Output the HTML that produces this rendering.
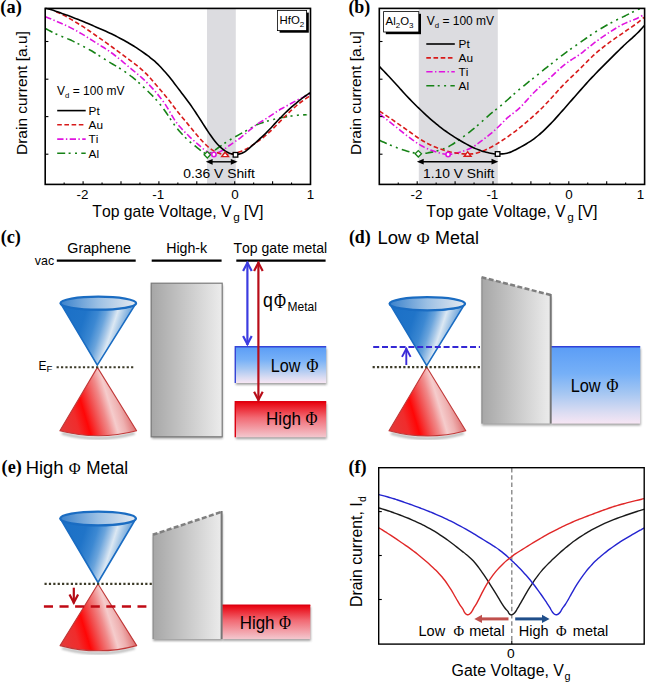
<!DOCTYPE html>
<html><head><meta charset="utf-8"><title>Figure</title>
<style>html,body{margin:0;padding:0;background:#fff;}svg{display:block;}text{font-kerning:none;}</style>
</head><body>
<svg width="647" height="685" viewBox="0 0 647 685">
<defs>
<linearGradient id="gk" x1="0" y1="0" x2="1" y2="0"><stop offset="0" stop-color="#a6a6a6"/><stop offset="1" stop-color="#ececec"/></linearGradient>
<linearGradient id="gblue" x1="0" y1="0" x2="0" y2="1"><stop offset="0" stop-color="#5b9df6"/><stop offset="0.35" stop-color="#76b0f7"/><stop offset="0.6" stop-color="#a4c6f2"/><stop offset="0.85" stop-color="#dadcf2"/><stop offset="1" stop-color="#f7e6f4"/></linearGradient>
<linearGradient id="gred" x1="0" y1="0" x2="0" y2="1"><stop offset="0" stop-color="#e8000c"/><stop offset="0.45" stop-color="#f26a74"/><stop offset="1" stop-color="#f3c8cf"/></linearGradient>
<linearGradient id="gconeb" x1="0" y1="0" x2="1" y2="0.27"><stop offset="0" stop-color="#1a6fc6"/><stop offset="0.35" stop-color="#2074c8"/><stop offset="0.5" stop-color="#3c88d2"/><stop offset="0.6" stop-color="#6aa4dc"/><stop offset="0.68" stop-color="#a8c8e8"/><stop offset="0.74" stop-color="#dce8f3"/><stop offset="0.82" stop-color="#a4c6e6"/><stop offset="0.93" stop-color="#5c9ad8"/></linearGradient>
<linearGradient id="gtopb" x1="0" y1="0" x2="1" y2="0"><stop offset="0" stop-color="#3b82cc"/><stop offset="0.5" stop-color="#9cc0e4"/><stop offset="1" stop-color="#e6eaf0"/></linearGradient>
<linearGradient id="gconer" x1="0" y1="1" x2="1" y2="0.73"><stop offset="0" stop-color="#e23c3c"/><stop offset="0.25" stop-color="#f02c2c"/><stop offset="0.38" stop-color="#ff0606"/><stop offset="0.5" stop-color="#f24a4a"/><stop offset="0.62" stop-color="#f08a8a"/><stop offset="0.72" stop-color="#f5cccc"/><stop offset="0.82" stop-color="#eeb0b0"/><stop offset="0.93" stop-color="#e07878"/></linearGradient>
<filter id="sh" x="-10%" y="-10%" width="130%" height="130%"><feGaussianBlur stdDeviation="1.2"/></filter>
</defs>
<rect width="647" height="685" fill="#fff"/>
<rect x="207.0" y="8.4" width="28.8" height="176" fill="#dcdce0"/>
<path d="M45.40,28.50 C45.90,28.77 47.40,29.57 48.40,30.10 C49.40,30.62 50.40,31.16 51.40,31.67 C52.40,32.19 53.40,32.70 54.40,33.20 C55.40,33.69 56.40,34.16 57.40,34.61 C58.40,35.07 59.40,35.49 60.40,35.90 C61.40,36.32 62.40,36.70 63.40,37.10 C64.40,37.49 65.40,37.87 66.40,38.28 C67.40,38.69 68.40,39.10 69.40,39.54 C70.40,39.97 71.40,40.43 72.40,40.90 C73.40,41.37 74.40,41.86 75.40,42.36 C76.40,42.86 77.40,43.37 78.40,43.88 C79.40,44.40 80.40,44.92 81.40,45.44 C82.40,45.97 83.40,46.49 84.40,47.03 C85.40,47.56 86.40,48.10 87.40,48.65 C88.40,49.20 89.40,49.75 90.40,50.32 C91.40,50.88 92.40,51.46 93.40,52.06 C94.40,52.65 95.40,53.26 96.40,53.89 C97.40,54.51 98.40,55.15 99.40,55.80 C100.40,56.44 101.40,57.10 102.40,57.75 C103.40,58.39 104.40,59.04 105.40,59.67 C106.40,60.30 107.40,60.92 108.40,61.53 C109.40,62.14 110.40,62.73 111.40,63.32 C112.40,63.92 113.40,64.50 114.40,65.10 C115.40,65.70 116.40,66.30 117.40,66.92 C118.40,67.53 119.40,68.16 120.40,68.80 C121.40,69.44 122.40,70.09 123.40,70.75 C124.40,71.41 125.40,72.08 126.40,72.78 C127.40,73.47 128.40,74.18 129.40,74.91 C130.40,75.65 131.40,76.41 132.40,77.21 C133.40,78.00 134.40,78.83 135.40,79.68 C136.40,80.53 137.40,81.42 138.40,82.33 C139.40,83.23 140.40,84.16 141.40,85.09 C142.40,86.02 143.40,86.97 144.40,87.93 C145.40,88.88 146.40,89.83 147.40,90.80 C148.40,91.77 149.40,92.74 150.40,93.73 C151.40,94.72 152.40,95.72 153.40,96.76 C154.40,97.80 155.40,98.86 156.40,99.97 C157.40,101.09 158.40,102.24 159.40,103.46 C160.40,104.68 161.40,105.95 162.40,107.28 C163.40,108.62 164.40,110.02 165.40,111.47 C166.40,112.92 167.40,114.46 168.40,115.98 C169.40,117.50 170.40,119.09 171.40,120.58 C172.40,122.07 173.40,123.54 174.40,124.91 C175.40,126.27 176.40,127.55 177.40,128.78 C178.40,130.01 179.40,131.16 180.40,132.28 C181.40,133.40 182.40,134.47 183.40,135.51 C184.40,136.55 185.40,137.55 186.40,138.52 C187.40,139.48 188.40,140.40 189.40,141.29 C190.40,142.18 191.40,143.02 192.40,143.84 C193.40,144.66 194.40,145.44 195.40,146.23 C196.40,147.02 197.40,147.79 198.40,148.57 C199.40,149.36 200.40,150.20 201.40,150.92 C202.40,151.64 203.40,152.44 204.40,152.92 C205.40,153.39 206.40,153.75 207.40,153.78 C208.40,153.80 209.40,153.50 210.40,153.09 C211.40,152.67 212.40,151.95 213.40,151.29 C214.40,150.62 215.40,149.84 216.40,149.10 C217.40,148.37 218.40,147.62 219.40,146.89 C220.40,146.16 221.40,145.44 222.40,144.75 C223.40,144.05 224.40,143.38 225.40,142.73 C226.40,142.08 227.40,141.46 228.40,140.85 C229.40,140.23 230.40,139.64 231.40,139.05 C232.40,138.46 233.40,137.87 234.40,137.30 C235.40,136.72 236.40,136.15 237.40,135.59 C238.40,135.02 239.40,134.47 240.40,133.92 C241.40,133.36 242.40,132.82 243.40,132.27 C244.40,131.72 245.40,131.18 246.40,130.62 C247.40,130.05 248.40,129.47 249.40,128.88 C250.40,128.29 251.40,127.66 252.40,127.08 C253.40,126.50 254.40,125.92 255.40,125.42 C256.40,124.92 257.40,124.48 258.40,124.07 C259.40,123.66 260.40,123.31 261.40,122.97 C262.40,122.62 263.40,122.31 264.40,122.00 C265.40,121.68 266.40,121.39 267.40,121.10 C268.40,120.81 269.40,120.53 270.40,120.26 C271.40,120.00 272.40,119.74 273.40,119.49 C274.40,119.24 275.40,119.00 276.40,118.77 C277.40,118.54 278.40,118.32 279.40,118.10 C280.40,117.89 281.40,117.68 282.40,117.49 C283.40,117.29 284.40,117.10 285.40,116.92 C286.40,116.74 287.40,116.58 288.40,116.42 C289.40,116.26 290.40,116.12 291.40,115.98 C292.40,115.85 293.40,115.72 294.40,115.61 C295.40,115.49 296.40,115.39 297.40,115.29 C298.40,115.20 299.40,115.12 300.40,115.06 C301.40,114.99 302.40,114.95 303.40,114.91 C304.40,114.87 305.85,114.83 306.40,114.82 C306.95,114.80 306.65,114.81 306.70,114.80" fill="none" stroke="#168216" stroke-width="1.60" stroke-dasharray="8 3.4 2 4.4 2 4.3" stroke-linejoin="round"/>
<path d="M45.40,16.70 C45.90,16.91 47.40,17.52 48.40,17.94 C49.40,18.35 50.40,18.76 51.40,19.18 C52.40,19.60 53.40,20.01 54.40,20.44 C55.40,20.86 56.40,21.28 57.40,21.71 C58.40,22.13 59.40,22.56 60.40,23.00 C61.40,23.43 62.40,23.86 63.40,24.31 C64.40,24.75 65.40,25.20 66.40,25.67 C67.40,26.13 68.40,26.61 69.40,27.10 C70.40,27.59 71.40,28.10 72.40,28.62 C73.40,29.14 74.40,29.67 75.40,30.22 C76.40,30.76 77.40,31.32 78.40,31.89 C79.40,32.46 80.40,33.03 81.40,33.63 C82.40,34.22 83.40,34.82 84.40,35.44 C85.40,36.05 86.40,36.68 87.40,37.31 C88.40,37.94 89.40,38.59 90.40,39.23 C91.40,39.87 92.40,40.51 93.40,41.15 C94.40,41.78 95.40,42.41 96.40,43.04 C97.40,43.67 98.40,44.29 99.40,44.91 C100.40,45.54 101.40,46.15 102.40,46.78 C103.40,47.41 104.40,48.04 105.40,48.69 C106.40,49.33 107.40,49.98 108.40,50.66 C109.40,51.34 110.40,52.03 111.40,52.76 C112.40,53.48 113.40,54.23 114.40,55.00 C115.40,55.77 116.40,56.56 117.40,57.36 C118.40,58.16 119.40,58.98 120.40,59.80 C121.40,60.62 122.40,61.46 123.40,62.29 C124.40,63.13 125.40,63.97 126.40,64.81 C127.40,65.64 128.40,66.48 129.40,67.31 C130.40,68.14 131.40,68.96 132.40,69.79 C133.40,70.62 134.40,71.45 135.40,72.29 C136.40,73.13 137.40,73.97 138.40,74.83 C139.40,75.69 140.40,76.55 141.40,77.45 C142.40,78.34 143.40,79.24 144.40,80.18 C145.40,81.12 146.40,82.08 147.40,83.08 C148.40,84.07 149.40,85.09 150.40,86.14 C151.40,87.19 152.40,88.26 153.40,89.37 C154.40,90.48 155.40,91.61 156.40,92.79 C157.40,93.97 158.40,95.17 159.40,96.43 C160.40,97.69 161.40,98.97 162.40,100.33 C163.40,101.70 164.40,103.10 165.40,104.62 C166.40,106.14 167.40,107.78 168.40,109.46 C169.40,111.13 170.40,112.98 171.40,114.67 C172.40,116.36 173.40,118.07 174.40,119.59 C175.40,121.11 176.40,122.48 177.40,123.77 C178.40,125.06 179.40,126.20 180.40,127.33 C181.40,128.47 182.40,129.52 183.40,130.57 C184.40,131.62 185.40,132.64 186.40,133.64 C187.40,134.64 188.40,135.61 189.40,136.56 C190.40,137.52 191.40,138.44 192.40,139.36 C193.40,140.27 194.40,141.15 195.40,142.04 C196.40,142.93 197.40,143.81 198.40,144.68 C199.40,145.56 200.40,146.45 201.40,147.30 C202.40,148.15 203.40,149.02 204.40,149.79 C205.40,150.55 206.40,151.29 207.40,151.88 C208.40,152.46 209.40,152.98 210.40,153.31 C211.40,153.63 212.40,153.82 213.40,153.82 C214.40,153.83 215.40,153.62 216.40,153.33 C217.40,153.04 218.40,152.56 219.40,152.06 C220.40,151.56 221.40,150.95 222.40,150.33 C223.40,149.71 224.40,149.03 225.40,148.34 C226.40,147.66 227.40,146.93 228.40,146.22 C229.40,145.51 230.40,144.79 231.40,144.09 C232.40,143.38 233.40,142.70 234.40,142.00 C235.40,141.31 236.40,140.63 237.40,139.92 C238.40,139.22 239.40,138.51 240.40,137.77 C241.40,137.03 242.40,136.26 243.40,135.47 C244.40,134.67 245.40,133.84 246.40,133.00 C247.40,132.15 248.40,131.27 249.40,130.41 C250.40,129.56 251.40,128.68 252.40,127.85 C253.40,127.03 254.40,126.23 255.40,125.48 C256.40,124.74 257.40,124.05 258.40,123.39 C259.40,122.73 260.40,122.14 261.40,121.53 C262.40,120.93 263.40,120.36 264.40,119.75 C265.40,119.14 266.40,118.52 267.40,117.88 C268.40,117.23 269.40,116.55 270.40,115.87 C271.40,115.19 272.40,114.48 273.40,113.80 C274.40,113.12 275.40,112.44 276.40,111.80 C277.40,111.15 278.40,110.53 279.40,109.94 C280.40,109.34 281.40,108.78 282.40,108.21 C283.40,107.65 284.40,107.11 285.40,106.56 C286.40,106.02 287.40,105.47 288.40,104.92 C289.40,104.37 290.40,103.82 291.40,103.27 C292.40,102.72 293.40,102.16 294.40,101.62 C295.40,101.08 296.40,100.54 297.40,100.03 C298.40,99.51 299.40,99.01 300.40,98.53 C301.40,98.04 302.40,97.58 303.40,97.12 C304.40,96.67 305.40,96.23 306.40,95.81 C307.40,95.39 308.80,94.86 309.40,94.60 C310.00,94.33 309.90,94.29 310.00,94.22" fill="none" stroke="#e014e0" stroke-width="1.60" stroke-dasharray="6.3 2.4 1.4 2.4" stroke-linejoin="round"/>
<path d="M56.10,11.81 C56.60,12.01 58.10,12.61 59.10,13.03 C60.10,13.46 61.10,13.89 62.10,14.37 C63.10,14.85 64.10,15.36 65.10,15.90 C66.10,16.44 67.10,17.04 68.10,17.62 C69.10,18.21 70.10,18.81 71.10,19.40 C72.10,20.00 73.10,20.58 74.10,21.18 C75.10,21.77 76.10,22.36 77.10,22.96 C78.10,23.56 79.10,24.17 80.10,24.79 C81.10,25.41 82.10,26.05 83.10,26.70 C84.10,27.36 85.10,28.03 86.10,28.71 C87.10,29.39 88.10,30.08 89.10,30.78 C90.10,31.47 91.10,32.18 92.10,32.88 C93.10,33.58 94.10,34.29 95.10,34.99 C96.10,35.69 97.10,36.39 98.10,37.09 C99.10,37.79 100.10,38.50 101.10,39.20 C102.10,39.90 103.10,40.61 104.10,41.32 C105.10,42.02 106.10,42.73 107.10,43.44 C108.10,44.16 109.10,44.87 110.10,45.59 C111.10,46.31 112.10,47.03 113.10,47.76 C114.10,48.49 115.10,49.22 116.10,49.96 C117.10,50.69 118.10,51.43 119.10,52.17 C120.10,52.90 121.10,53.64 122.10,54.38 C123.10,55.12 124.10,55.86 125.10,56.60 C126.10,57.34 127.10,58.07 128.10,58.82 C129.10,59.56 130.10,60.29 131.10,61.04 C132.10,61.79 133.10,62.54 134.10,63.30 C135.10,64.07 136.10,64.85 137.10,65.66 C138.10,66.46 139.10,67.28 140.10,68.13 C141.10,68.98 142.10,69.85 143.10,70.77 C144.10,71.69 145.10,72.65 146.10,73.66 C147.10,74.66 148.10,75.72 149.10,76.81 C150.10,77.90 151.10,79.04 152.10,80.18 C153.10,81.32 154.10,82.49 155.10,83.66 C156.10,84.82 157.10,85.99 158.10,87.16 C159.10,88.33 160.10,89.50 161.10,90.68 C162.10,91.86 163.10,93.03 164.10,94.23 C165.10,95.42 166.10,96.62 167.10,97.86 C168.10,99.10 169.10,100.37 170.10,101.68 C171.10,102.99 172.10,104.36 173.10,105.69 C174.10,107.03 175.10,108.40 176.10,109.70 C177.10,111.00 178.10,112.26 179.10,113.51 C180.10,114.75 181.10,115.95 182.10,117.16 C183.10,118.37 184.10,119.56 185.10,120.76 C186.10,121.96 187.10,123.17 188.10,124.38 C189.10,125.60 190.10,126.83 191.10,128.05 C192.10,129.27 193.10,130.50 194.10,131.71 C195.10,132.92 196.10,134.13 197.10,135.30 C198.10,136.47 199.10,137.63 200.10,138.74 C201.10,139.86 202.10,140.94 203.10,141.98 C204.10,143.02 205.10,144.04 206.10,144.98 C207.10,145.92 208.10,146.83 209.10,147.64 C210.10,148.46 211.10,149.20 212.10,149.86 C213.10,150.51 214.10,151.08 215.10,151.58 C216.10,152.09 217.10,152.52 218.10,152.91 C219.10,153.29 220.10,153.62 221.10,153.88 C222.10,154.14 223.10,154.33 224.10,154.44 C225.10,154.55 226.10,154.58 227.10,154.54 C228.10,154.51 229.10,154.38 230.10,154.23 C231.10,154.08 232.10,153.87 233.10,153.65 C234.10,153.44 235.10,153.19 236.10,152.92 C237.10,152.65 238.10,152.37 239.10,152.04 C240.10,151.70 241.10,151.35 242.10,150.94 C243.10,150.53 244.10,150.08 245.10,149.58 C246.10,149.08 247.10,148.52 248.10,147.94 C249.10,147.36 250.10,146.72 251.10,146.07 C252.10,145.43 253.10,144.74 254.10,144.06 C255.10,143.37 256.10,142.67 257.10,141.96 C258.10,141.25 259.10,140.53 260.10,139.79 C261.10,139.05 262.10,138.30 263.10,137.52 C264.10,136.73 265.10,135.93 266.10,135.09 C267.10,134.24 268.10,133.35 269.10,132.43 C270.10,131.50 271.10,130.52 272.10,129.53 C273.10,128.54 274.10,127.50 275.10,126.48 C276.10,125.46 277.10,124.43 278.10,123.40 C279.10,122.38 280.10,121.36 281.10,120.34 C282.10,119.32 283.10,118.30 284.10,117.30 C285.10,116.29 286.10,115.30 287.10,114.32 C288.10,113.34 289.10,112.38 290.10,111.43 C291.10,110.49 292.10,109.56 293.10,108.65 C294.10,107.74 295.10,106.85 296.10,106.00 C297.10,105.14 298.10,104.31 299.10,103.52 C300.10,102.73 301.10,101.97 302.10,101.24 C303.10,100.51 304.10,99.81 305.10,99.12 C306.10,98.44 307.28,97.66 308.10,97.11 C308.92,96.56 309.68,96.03 310.00,95.81" fill="none" stroke="#d81a1a" stroke-width="1.60" stroke-dasharray="4.6 2.6" stroke-linejoin="round"/>
<path d="M45.40,8.40 C45.90,8.48 47.40,8.66 48.40,8.87 C49.40,9.09 50.40,9.38 51.40,9.69 C52.40,10.00 53.40,10.36 54.40,10.71 C55.40,11.06 56.40,11.43 57.40,11.79 C58.40,12.15 59.40,12.50 60.40,12.86 C61.40,13.21 62.40,13.57 63.40,13.92 C64.40,14.28 65.40,14.64 66.40,15.00 C67.40,15.37 68.40,15.73 69.40,16.11 C70.40,16.48 71.40,16.86 72.40,17.25 C73.40,17.63 74.40,18.02 75.40,18.41 C76.40,18.81 77.40,19.21 78.40,19.61 C79.40,20.01 80.40,20.42 81.40,20.82 C82.40,21.23 83.40,21.64 84.40,22.06 C85.40,22.48 86.40,22.89 87.40,23.32 C88.40,23.74 89.40,24.16 90.40,24.59 C91.40,25.01 92.40,25.44 93.40,25.87 C94.40,26.30 95.40,26.73 96.40,27.16 C97.40,27.59 98.40,28.02 99.40,28.45 C100.40,28.88 101.40,29.31 102.40,29.75 C103.40,30.18 104.40,30.62 105.40,31.07 C106.40,31.51 107.40,31.96 108.40,32.42 C109.40,32.88 110.40,33.35 111.40,33.84 C112.40,34.32 113.40,34.82 114.40,35.33 C115.40,35.83 116.40,36.35 117.40,36.88 C118.40,37.40 119.40,37.93 120.40,38.46 C121.40,38.99 122.40,39.53 123.40,40.07 C124.40,40.62 125.40,41.17 126.40,41.74 C127.40,42.30 128.40,42.88 129.40,43.47 C130.40,44.06 131.40,44.66 132.40,45.27 C133.40,45.88 134.40,46.51 135.40,47.14 C136.40,47.78 137.40,48.44 138.40,49.10 C139.40,49.77 140.40,50.45 141.40,51.14 C142.40,51.84 143.40,52.55 144.40,53.27 C145.40,54.00 146.40,54.73 147.40,55.48 C148.40,56.24 149.40,57.00 150.40,57.79 C151.40,58.58 152.40,59.38 153.40,60.23 C154.40,61.08 155.40,61.96 156.40,62.89 C157.40,63.81 158.40,64.79 159.40,65.80 C160.40,66.80 161.40,67.85 162.40,68.94 C163.40,70.02 164.40,71.13 165.40,72.28 C166.40,73.43 167.40,74.62 168.40,75.84 C169.40,77.05 170.40,78.31 171.40,79.57 C172.40,80.84 173.40,82.14 174.40,83.44 C175.40,84.74 176.40,86.06 177.40,87.38 C178.40,88.69 179.40,90.02 180.40,91.34 C181.40,92.66 182.40,93.97 183.40,95.30 C184.40,96.62 185.40,97.93 186.40,99.27 C187.40,100.61 188.40,101.96 189.40,103.34 C190.40,104.73 191.40,106.14 192.40,107.59 C193.40,109.04 194.40,110.53 195.40,112.04 C196.40,113.54 197.40,115.08 198.40,116.62 C199.40,118.16 200.40,119.72 201.40,121.28 C202.40,122.84 203.40,124.41 204.40,125.96 C205.40,127.51 206.40,129.07 207.40,130.58 C208.40,132.09 209.40,133.59 210.40,135.02 C211.40,136.45 212.40,137.85 213.40,139.16 C214.40,140.47 215.40,141.73 216.40,142.90 C217.40,144.07 218.40,145.17 219.40,146.17 C220.40,147.16 221.40,148.08 222.40,148.89 C223.40,149.71 224.40,150.43 225.40,151.06 C226.40,151.69 227.40,152.23 228.40,152.70 C229.40,153.16 230.40,153.55 231.40,153.84 C232.40,154.12 233.40,154.33 234.40,154.42 C235.40,154.52 236.40,154.51 237.40,154.40 C238.40,154.30 239.40,154.11 240.40,153.80 C241.40,153.48 242.40,153.07 243.40,152.53 C244.40,151.99 245.40,151.29 246.40,150.55 C247.40,149.81 248.40,148.95 249.40,148.10 C250.40,147.25 251.40,146.35 252.40,145.46 C253.40,144.57 254.40,143.67 255.40,142.78 C256.40,141.89 257.40,141.00 258.40,140.10 C259.40,139.21 260.40,138.32 261.40,137.41 C262.40,136.50 263.40,135.58 264.40,134.62 C265.40,133.66 266.40,132.68 267.40,131.66 C268.40,130.63 269.40,129.56 270.40,128.49 C271.40,127.42 272.40,126.30 273.40,125.21 C274.40,124.12 275.40,123.02 276.40,121.94 C277.40,120.87 278.40,119.81 279.40,118.77 C280.40,117.72 281.40,116.70 282.40,115.69 C283.40,114.69 284.40,113.69 285.40,112.73 C286.40,111.76 287.40,110.81 288.40,109.88 C289.40,108.96 290.40,108.06 291.40,107.17 C292.40,106.29 293.40,105.43 294.40,104.59 C295.40,103.75 296.40,102.92 297.40,102.11 C298.40,101.30 299.40,100.51 300.40,99.74 C301.40,98.96 302.40,98.20 303.40,97.46 C304.40,96.71 305.40,95.98 306.40,95.28 C307.40,94.58 308.80,93.71 309.40,93.27 C310.00,92.82 309.90,92.74 310.00,92.64" fill="none" stroke="#000" stroke-width="1.60" stroke-linejoin="round"/>
<line x1="64.15" y1="184.40" x2="64.15" y2="182.60" stroke="#000" stroke-width="1.1"/><line x1="83.10" y1="184.40" x2="83.10" y2="181.20" stroke="#000" stroke-width="1.1"/><line x1="102.05" y1="184.40" x2="102.05" y2="182.60" stroke="#000" stroke-width="1.1"/><line x1="121.00" y1="184.40" x2="121.00" y2="181.20" stroke="#000" stroke-width="1.1"/><line x1="139.95" y1="184.40" x2="139.95" y2="182.60" stroke="#000" stroke-width="1.1"/><line x1="158.90" y1="184.40" x2="158.90" y2="181.20" stroke="#000" stroke-width="1.1"/><line x1="177.85" y1="184.40" x2="177.85" y2="182.60" stroke="#000" stroke-width="1.1"/><line x1="196.80" y1="184.40" x2="196.80" y2="181.20" stroke="#000" stroke-width="1.1"/><line x1="215.75" y1="184.40" x2="215.75" y2="182.60" stroke="#000" stroke-width="1.1"/><line x1="234.70" y1="184.40" x2="234.70" y2="181.20" stroke="#000" stroke-width="1.1"/><line x1="253.65" y1="184.40" x2="253.65" y2="182.60" stroke="#000" stroke-width="1.1"/><line x1="272.60" y1="184.40" x2="272.60" y2="181.20" stroke="#000" stroke-width="1.1"/><line x1="291.55" y1="184.40" x2="291.55" y2="182.60" stroke="#000" stroke-width="1.1"/><line x1="45.20" y1="41.50" x2="48.40" y2="41.50" stroke="#000" stroke-width="1.1"/><line x1="45.20" y1="79.20" x2="48.40" y2="79.20" stroke="#000" stroke-width="1.1"/><line x1="45.20" y1="116.60" x2="48.40" y2="116.60" stroke="#000" stroke-width="1.1"/><line x1="45.20" y1="154.20" x2="48.40" y2="154.20" stroke="#000" stroke-width="1.1"/><rect x="45.20" y="8.40" width="265.30" height="176.00" fill="none" stroke="#000" stroke-width="1.6"/><text x="76.50" y="198.80" font-size="13.40" font-family='"Liberation Sans", sans-serif' textLength="11.91" lengthAdjust="spacingAndGlyphs">-2</text><text x="152.30" y="198.80" font-size="13.40" font-family='"Liberation Sans", sans-serif' textLength="11.91" lengthAdjust="spacingAndGlyphs">-1</text><text x="231.17" y="198.80" font-size="13.40" font-family='"Liberation Sans", sans-serif' textLength="7.45" lengthAdjust="spacingAndGlyphs">0</text><text x="306.79" y="198.80" font-size="13.40" font-family='"Liberation Sans", sans-serif' textLength="7.45" lengthAdjust="spacingAndGlyphs">1</text>
<path d="M207.3,151.6 L210.5,154.8 L207.3,158.0 L204.1,154.8 Z" fill="#fff" stroke="#168216" stroke-width="1.3"/>
<circle cx="213.9" cy="154.5" r="2.2" fill="#fff" stroke="#e014e0" stroke-width="1.6"/>
<path d="M225.1,152.2 L228.5,156.6 L221.7,156.6 Z" fill="#fff" stroke="#d81a1a" stroke-width="1.4" stroke-linejoin="miter"/>
<rect x="233.2" y="152.5" width="4.6" height="4.6" fill="#fff" stroke="#000" stroke-width="1.3"/>
<line x1="211.6" y1="161.8" x2="231.8" y2="161.8" stroke="#000" stroke-width="1.4"/><path d="M205.8,161.8 L212.6,158.9 L212.6,164.7 Z" fill="#000"/><path d="M237.6,161.8 L230.8,158.9 L230.8,164.7 Z" fill="#000"/>
<text x="183.26" y="177.80" font-size="13.60" font-family='"Liberation Sans", sans-serif' textLength="71.64" lengthAdjust="spacingAndGlyphs">0.36 V Shift</text>
<rect x="279.6" y="12.6" width="29.2" height="20.1" fill="#000"/>
<rect x="277.4" y="10.5" width="29.2" height="20.1" fill="#fff" stroke="#000" stroke-width="0.8"/>
<text x="279.6" y="24.4" font-size="11.4" font-family='"Liberation Sans", sans-serif'>HfO<tspan font-size="8" dy="2.5">2</tspan></text>
<text x="57" y="94.8" font-size="12" font-family='"Liberation Sans", sans-serif'>V<tspan font-size="7.8" dy="3">d</tspan><tspan dy="-3"> = 100 mV</tspan></text>
<line x1="57.2" y1="110.6" x2="85.7" y2="110.6" stroke="#000" stroke-width="1.60"/><text x="88.6" y="114.9" font-size="11.8" font-family='"Liberation Sans", sans-serif'>Pt</text><line x1="57.2" y1="124.8" x2="85.7" y2="124.8" stroke="#d81a1a" stroke-width="1.60" stroke-dasharray="4.6 2.6"/><text x="88.6" y="129.2" font-size="11.8" font-family='"Liberation Sans", sans-serif'>Au</text><line x1="57.2" y1="139.1" x2="85.7" y2="139.1" stroke="#e014e0" stroke-width="1.60" stroke-dasharray="6.3 2.4 1.4 2.4"/><text x="88.6" y="143.4" font-size="11.8" font-family='"Liberation Sans", sans-serif'>Ti</text><line x1="57.2" y1="153.3" x2="85.7" y2="153.3" stroke="#168216" stroke-width="1.60" stroke-dasharray="8 3.4 2 4.4 2 4.3"/><text x="88.6" y="157.7" font-size="11.8" font-family='"Liberation Sans", sans-serif'>Al</text>
<text x="92.35" y="216.60" font-size="16.60" font-family='"Liberation Sans", sans-serif' textLength="139.22" lengthAdjust="spacingAndGlyphs">Top gate Voltage, V</text>
<text x="233.3" y="220.6" font-size="11.8" font-family='"Liberation Sans", sans-serif'>g</text>
<text x="243.74" y="216.60" font-size="16.60" font-family='"Liberation Sans", sans-serif' textLength="19.81" lengthAdjust="spacingAndGlyphs">[V]</text>
<g transform="translate(27.30,0) rotate(-90)"><text x="-154.97" y="0.00" font-size="15.20" font-family='"Liberation Sans", sans-serif' textLength="123.77" lengthAdjust="spacingAndGlyphs">Drain current [a.u]</text></g>
<text x="0.39" y="12.80" font-size="17.80" font-family='"Liberation Serif", serif' font-weight="bold" textLength="21.41" lengthAdjust="spacingAndGlyphs">(a)</text>
<rect x="418.8" y="8.4" width="79.0" height="176" fill="#dcdce0"/>
<path d="M379.50,140.30 C380.00,140.53 381.50,141.22 382.50,141.67 C383.50,142.12 384.50,142.58 385.50,143.03 C386.50,143.47 387.50,143.92 388.50,144.35 C389.50,144.78 390.50,145.20 391.50,145.61 C392.50,146.02 393.50,146.42 394.50,146.80 C395.50,147.19 396.50,147.56 397.50,147.93 C398.50,148.30 399.50,148.65 400.50,149.00 C401.50,149.35 402.50,149.68 403.50,150.01 C404.50,150.33 405.50,150.65 406.50,150.95 C407.50,151.25 408.50,151.55 409.50,151.82 C410.50,152.09 411.50,152.35 412.50,152.57 C413.50,152.79 414.50,152.99 415.50,153.14 C416.50,153.29 417.50,153.40 418.50,153.46 C419.50,153.53 420.50,153.54 421.50,153.52 C422.50,153.49 423.50,153.41 424.50,153.31 C425.50,153.21 426.50,153.07 427.50,152.92 C428.50,152.77 429.50,152.59 430.50,152.40 C431.50,152.21 432.50,152.01 433.50,151.79 C434.50,151.57 435.50,151.35 436.50,151.10 C437.50,150.85 438.50,150.60 439.50,150.32 C440.50,150.03 441.50,149.73 442.50,149.38 C443.50,149.03 444.50,148.65 445.50,148.21 C446.50,147.76 447.50,147.26 448.50,146.71 C449.50,146.16 450.50,145.55 451.50,144.93 C452.50,144.31 453.50,143.65 454.50,142.99 C455.50,142.33 456.50,141.65 457.50,140.95 C458.50,140.26 459.50,139.56 460.50,138.84 C461.50,138.13 462.50,137.40 463.50,136.66 C464.50,135.92 465.50,135.17 466.50,134.40 C467.50,133.64 468.50,132.86 469.50,132.08 C470.50,131.29 471.50,130.49 472.50,129.68 C473.50,128.87 474.50,128.04 475.50,127.20 C476.50,126.36 477.50,125.50 478.50,124.62 C479.50,123.74 480.50,122.84 481.50,121.94 C482.50,121.04 483.50,120.12 484.50,119.21 C485.50,118.31 486.50,117.41 487.50,116.53 C488.50,115.66 489.50,114.80 490.50,113.97 C491.50,113.13 492.50,112.33 493.50,111.53 C494.50,110.73 495.50,109.95 496.50,109.15 C497.50,108.36 498.50,107.56 499.50,106.74 C500.50,105.93 501.50,105.09 502.50,104.25 C503.50,103.40 504.50,102.53 505.50,101.65 C506.50,100.78 507.50,99.89 508.50,99.00 C509.50,98.11 510.50,97.22 511.50,96.33 C512.50,95.44 513.50,94.55 514.50,93.67 C515.50,92.78 516.50,91.91 517.50,91.04 C518.50,90.18 519.50,89.33 520.50,88.49 C521.50,87.65 522.50,86.83 523.50,86.01 C524.50,85.19 525.50,84.39 526.50,83.59 C527.50,82.79 528.50,82.01 529.50,81.21 C530.50,80.42 531.50,79.63 532.50,78.84 C533.50,78.04 534.50,77.25 535.50,76.45 C536.50,75.65 537.50,74.85 538.50,74.04 C539.50,73.24 540.50,72.44 541.50,71.64 C542.50,70.83 543.50,70.03 544.50,69.23 C545.50,68.43 546.50,67.63 547.50,66.84 C548.50,66.04 549.50,65.24 550.50,64.45 C551.50,63.65 552.50,62.86 553.50,62.06 C554.50,61.27 555.50,60.47 556.50,59.69 C557.50,58.90 558.50,58.11 559.50,57.33 C560.50,56.55 561.50,55.78 562.50,55.02 C563.50,54.26 564.50,53.51 565.50,52.77 C566.50,52.04 567.50,51.31 568.50,50.60 C569.50,49.88 570.50,49.18 571.50,48.48 C572.50,47.79 573.50,47.10 574.50,46.41 C575.50,45.72 576.50,45.03 577.50,44.34 C578.50,43.65 579.50,42.95 580.50,42.25 C581.50,41.55 582.50,40.84 583.50,40.13 C584.50,39.42 585.50,38.71 586.50,38.01 C587.50,37.30 588.50,36.60 589.50,35.91 C590.50,35.22 591.50,34.53 592.50,33.87 C593.50,33.20 594.50,32.55 595.50,31.91 C596.50,31.26 597.50,30.64 598.50,30.02 C599.50,29.40 600.50,28.80 601.50,28.20 C602.50,27.61 603.50,27.02 604.50,26.45 C605.50,25.87 606.50,25.31 607.50,24.75 C608.50,24.20 609.50,23.66 610.50,23.13 C611.50,22.60 612.50,22.09 613.50,21.58 C614.50,21.07 615.50,20.58 616.50,20.08 C617.50,19.59 618.50,19.10 619.50,18.61 C620.50,18.12 621.50,17.63 622.50,17.13 C623.50,16.64 624.50,16.14 625.50,15.64 C626.50,15.14 627.50,14.64 628.50,14.14 C629.50,13.64 630.50,13.13 631.50,12.64 C632.50,12.14 633.50,11.63 634.50,11.15 C635.50,10.66 636.50,10.17 637.50,9.72 C638.50,9.27 639.92,8.69 640.50,8.44 C641.08,8.19 640.92,8.28 641.00,8.24" fill="none" stroke="#168216" stroke-width="1.60" stroke-dasharray="8 3.4 2 4.4 2 4.3" stroke-linejoin="round"/>
<path d="M379.50,114.00 C380.00,114.39 381.50,115.55 382.50,116.33 C383.50,117.10 384.50,117.88 385.50,118.65 C386.50,119.43 387.50,120.21 388.50,120.99 C389.50,121.78 390.50,122.56 391.50,123.35 C392.50,124.14 393.50,124.94 394.50,125.74 C395.50,126.55 396.50,127.36 397.50,128.17 C398.50,128.98 399.50,129.79 400.50,130.60 C401.50,131.40 402.50,132.21 403.50,133.00 C404.50,133.79 405.50,134.57 406.50,135.34 C407.50,136.11 408.50,136.87 409.50,137.62 C410.50,138.37 411.50,139.12 412.50,139.85 C413.50,140.58 414.50,141.31 415.50,142.00 C416.50,142.69 417.50,143.37 418.50,144.00 C419.50,144.63 420.50,145.24 421.50,145.80 C422.50,146.36 423.50,146.88 424.50,147.37 C425.50,147.86 426.50,148.30 427.50,148.73 C428.50,149.15 429.50,149.54 430.50,149.92 C431.50,150.30 432.50,150.66 433.50,151.00 C434.50,151.35 435.50,151.68 436.50,152.00 C437.50,152.32 438.50,152.63 439.50,152.91 C440.50,153.19 441.50,153.46 442.50,153.67 C443.50,153.89 444.50,154.08 445.50,154.20 C446.50,154.31 447.50,154.38 448.50,154.37 C449.50,154.36 450.50,154.27 451.50,154.14 C452.50,154.01 453.50,153.79 454.50,153.56 C455.50,153.33 456.50,153.05 457.50,152.78 C458.50,152.51 459.50,152.23 460.50,151.93 C461.50,151.64 462.50,151.35 463.50,151.03 C464.50,150.70 465.50,150.37 466.50,149.99 C467.50,149.60 468.50,149.19 469.50,148.71 C470.50,148.23 471.50,147.70 472.50,147.12 C473.50,146.54 474.50,145.90 475.50,145.23 C476.50,144.56 477.50,143.83 478.50,143.11 C479.50,142.38 480.50,141.62 481.50,140.87 C482.50,140.11 483.50,139.35 484.50,138.58 C485.50,137.82 486.50,137.05 487.50,136.27 C488.50,135.48 489.50,134.69 490.50,133.87 C491.50,133.05 492.50,132.22 493.50,131.35 C494.50,130.47 495.50,129.57 496.50,128.63 C497.50,127.69 498.50,126.71 499.50,125.71 C500.50,124.72 501.50,123.68 502.50,122.68 C503.50,121.68 504.50,120.66 505.50,119.71 C506.50,118.76 507.50,117.84 508.50,116.98 C509.50,116.11 510.50,115.33 511.50,114.54 C512.50,113.76 513.50,113.04 514.50,112.26 C515.50,111.48 516.50,110.71 517.50,109.85 C518.50,108.99 519.50,108.07 520.50,107.09 C521.50,106.11 522.50,105.05 523.50,103.97 C524.50,102.90 525.50,101.76 526.50,100.64 C527.50,99.52 528.50,98.37 529.50,97.26 C530.50,96.15 531.50,95.05 532.50,94.00 C533.50,92.95 534.50,91.93 535.50,90.95 C536.50,89.97 537.50,89.03 538.50,88.11 C539.50,87.19 540.50,86.31 541.50,85.42 C542.50,84.53 543.50,83.66 544.50,82.78 C545.50,81.90 546.50,81.02 547.50,80.12 C548.50,79.22 549.50,78.30 550.50,77.38 C551.50,76.45 552.50,75.51 553.50,74.57 C554.50,73.63 555.50,72.67 556.50,71.73 C557.50,70.80 558.50,69.86 559.50,68.95 C560.50,68.05 561.50,67.15 562.50,66.30 C563.50,65.46 564.50,64.64 565.50,63.87 C566.50,63.10 567.50,62.39 568.50,61.70 C569.50,61.01 570.50,60.38 571.50,59.74 C572.50,59.10 573.50,58.50 574.50,57.87 C575.50,57.23 576.50,56.60 577.50,55.93 C578.50,55.25 579.50,54.55 580.50,53.82 C581.50,53.09 582.50,52.31 583.50,51.53 C584.50,50.74 585.50,49.92 586.50,49.11 C587.50,48.30 588.50,47.47 589.50,46.67 C590.50,45.86 591.50,45.06 592.50,44.27 C593.50,43.49 594.50,42.73 595.50,41.98 C596.50,41.23 597.50,40.50 598.50,39.78 C599.50,39.05 600.50,38.35 601.50,37.65 C602.50,36.95 603.50,36.26 604.50,35.58 C605.50,34.90 606.50,34.24 607.50,33.58 C608.50,32.92 609.50,32.27 610.50,31.62 C611.50,30.98 612.50,30.35 613.50,29.72 C614.50,29.10 615.50,28.48 616.50,27.89 C617.50,27.30 618.50,26.71 619.50,26.15 C620.50,25.60 621.50,25.06 622.50,24.55 C623.50,24.04 624.50,23.57 625.50,23.11 C626.50,22.66 627.50,22.24 628.50,21.83 C629.50,21.42 630.50,21.04 631.50,20.64 C632.50,20.25 633.50,19.88 634.50,19.47 C635.50,19.05 636.50,18.64 637.50,18.17 C638.50,17.69 639.50,17.18 640.50,16.61 C641.50,16.05 642.92,15.14 643.50,14.78 C644.08,14.42 643.92,14.51 644.00,14.45" fill="none" stroke="#e014e0" stroke-width="1.60" stroke-dasharray="6.3 2.4 1.4 2.4" stroke-linejoin="round"/>
<path d="M379.50,111.10 C380.00,111.43 381.50,112.44 382.50,113.10 C383.50,113.77 384.50,114.44 385.50,115.11 C386.50,115.78 387.50,116.45 388.50,117.13 C389.50,117.80 390.50,118.48 391.50,119.16 C392.50,119.85 393.50,120.53 394.50,121.22 C395.50,121.91 396.50,122.61 397.50,123.31 C398.50,124.00 399.50,124.70 400.50,125.40 C401.50,126.10 402.50,126.80 403.50,127.51 C404.50,128.21 405.50,128.91 406.50,129.62 C407.50,130.33 408.50,131.04 409.50,131.76 C410.50,132.48 411.50,133.20 412.50,133.92 C413.50,134.63 414.50,135.36 415.50,136.06 C416.50,136.75 417.50,137.45 418.50,138.11 C419.50,138.77 420.50,139.42 421.50,140.03 C422.50,140.65 423.50,141.24 424.50,141.80 C425.50,142.37 426.50,142.92 427.50,143.44 C428.50,143.96 429.50,144.46 430.50,144.94 C431.50,145.42 432.50,145.88 433.50,146.32 C434.50,146.76 435.50,147.18 436.50,147.58 C437.50,147.98 438.50,148.36 439.50,148.72 C440.50,149.09 441.50,149.43 442.50,149.76 C443.50,150.09 444.50,150.40 445.50,150.70 C446.50,150.99 447.50,151.27 448.50,151.53 C449.50,151.78 450.50,152.02 451.50,152.24 C452.50,152.45 453.50,152.65 454.50,152.82 C455.50,152.99 456.50,153.14 457.50,153.28 C458.50,153.41 459.50,153.52 460.50,153.62 C461.50,153.71 462.50,153.79 463.50,153.86 C464.50,153.92 465.50,153.98 466.50,154.01 C467.50,154.04 468.50,154.06 469.50,154.03 C470.50,154.00 471.50,153.95 472.50,153.84 C473.50,153.73 474.50,153.56 475.50,153.35 C476.50,153.14 477.50,152.87 478.50,152.58 C479.50,152.28 480.50,151.94 481.50,151.57 C482.50,151.20 483.50,150.81 484.50,150.38 C485.50,149.96 486.50,149.52 487.50,149.04 C488.50,148.57 489.50,148.07 490.50,147.54 C491.50,147.01 492.50,146.45 493.50,145.87 C494.50,145.29 495.50,144.69 496.50,144.07 C497.50,143.45 498.50,142.82 499.50,142.18 C500.50,141.54 501.50,140.89 502.50,140.24 C503.50,139.59 504.50,138.94 505.50,138.27 C506.50,137.61 507.50,136.93 508.50,136.23 C509.50,135.54 510.50,134.82 511.50,134.09 C512.50,133.35 513.50,132.59 514.50,131.82 C515.50,131.05 516.50,130.26 517.50,129.47 C518.50,128.68 519.50,127.88 520.50,127.07 C521.50,126.26 522.50,125.44 523.50,124.62 C524.50,123.79 525.50,122.96 526.50,122.12 C527.50,121.28 528.50,120.44 529.50,119.58 C530.50,118.72 531.50,117.85 532.50,116.96 C533.50,116.07 534.50,115.17 535.50,114.25 C536.50,113.32 537.50,112.38 538.50,111.41 C539.50,110.45 540.50,109.46 541.50,108.45 C542.50,107.45 543.50,106.42 544.50,105.39 C545.50,104.35 546.50,103.30 547.50,102.24 C548.50,101.18 549.50,100.11 550.50,99.02 C551.50,97.93 552.50,96.82 553.50,95.71 C554.50,94.60 555.50,93.47 556.50,92.36 C557.50,91.25 558.50,90.13 559.50,89.04 C560.50,87.95 561.50,86.87 562.50,85.83 C563.50,84.78 564.50,83.75 565.50,82.75 C566.50,81.74 567.50,80.77 568.50,79.80 C569.50,78.82 570.50,77.87 571.50,76.92 C572.50,75.97 573.50,75.02 574.50,74.07 C575.50,73.11 576.50,72.16 577.50,71.19 C578.50,70.23 579.50,69.25 580.50,68.26 C581.50,67.26 582.50,66.25 583.50,65.24 C584.50,64.23 585.50,63.20 586.50,62.19 C587.50,61.18 588.50,60.16 589.50,59.17 C590.50,58.19 591.50,57.21 592.50,56.27 C593.50,55.33 594.50,54.42 595.50,53.54 C596.50,52.65 597.50,51.80 598.50,50.96 C599.50,50.13 600.50,49.32 601.50,48.52 C602.50,47.73 603.50,46.95 604.50,46.18 C605.50,45.41 606.50,44.65 607.50,43.90 C608.50,43.15 609.50,42.41 610.50,41.69 C611.50,40.96 612.50,40.25 613.50,39.54 C614.50,38.83 615.50,38.14 616.50,37.45 C617.50,36.75 618.50,36.07 619.50,35.38 C620.50,34.69 621.50,34.01 622.50,33.32 C623.50,32.63 624.50,31.94 625.50,31.24 C626.50,30.55 627.50,29.86 628.50,29.17 C629.50,28.48 630.50,27.79 631.50,27.09 C632.50,26.39 633.50,25.69 634.50,24.98 C635.50,24.26 636.50,23.54 637.50,22.77 C638.50,22.01 639.50,21.22 640.50,20.39 C641.50,19.56 642.92,18.31 643.50,17.81 C644.08,17.30 643.92,17.44 644.00,17.36" fill="none" stroke="#d81a1a" stroke-width="1.60" stroke-dasharray="4.6 2.6" stroke-linejoin="round"/>
<path d="M379.50,66.60 C380.00,67.12 381.50,68.69 382.50,69.74 C383.50,70.79 384.50,71.83 385.50,72.88 C386.50,73.93 387.50,74.99 388.50,76.05 C389.50,77.11 390.50,78.17 391.50,79.25 C392.50,80.33 393.50,81.42 394.50,82.51 C395.50,83.61 396.50,84.72 397.50,85.83 C398.50,86.93 399.50,88.05 400.50,89.16 C401.50,90.27 402.50,91.38 403.50,92.47 C404.50,93.56 405.50,94.64 406.50,95.71 C407.50,96.77 408.50,97.82 409.50,98.86 C410.50,99.90 411.50,100.92 412.50,101.94 C413.50,102.95 414.50,103.96 415.50,104.95 C416.50,105.94 417.50,106.93 418.50,107.90 C419.50,108.87 420.50,109.83 421.50,110.79 C422.50,111.74 423.50,112.69 424.50,113.63 C425.50,114.57 426.50,115.50 427.50,116.41 C428.50,117.33 429.50,118.24 430.50,119.12 C431.50,120.01 432.50,120.88 433.50,121.73 C434.50,122.57 435.50,123.40 436.50,124.21 C437.50,125.02 438.50,125.80 439.50,126.57 C440.50,127.34 441.50,128.09 442.50,128.83 C443.50,129.57 444.50,130.29 445.50,131.01 C446.50,131.72 447.50,132.42 448.50,133.11 C449.50,133.81 450.50,134.49 451.50,135.16 C452.50,135.83 453.50,136.49 454.50,137.13 C455.50,137.78 456.50,138.40 457.50,139.02 C458.50,139.63 459.50,140.22 460.50,140.80 C461.50,141.39 462.50,141.95 463.50,142.51 C464.50,143.07 465.50,143.62 466.50,144.17 C467.50,144.71 468.50,145.24 469.50,145.76 C470.50,146.28 471.50,146.78 472.50,147.26 C473.50,147.74 474.50,148.21 475.50,148.64 C476.50,149.07 477.50,149.47 478.50,149.85 C479.50,150.22 480.50,150.57 481.50,150.89 C482.50,151.22 483.50,151.52 484.50,151.80 C485.50,152.08 486.50,152.35 487.50,152.59 C488.50,152.83 489.50,153.07 490.50,153.26 C491.50,153.45 492.50,153.62 493.50,153.74 C494.50,153.86 495.50,153.94 496.50,153.99 C497.50,154.04 498.50,154.05 499.50,154.03 C500.50,154.01 501.50,153.97 502.50,153.88 C503.50,153.79 504.50,153.67 505.50,153.48 C506.50,153.29 507.50,153.05 508.50,152.74 C509.50,152.44 510.50,152.06 511.50,151.65 C512.50,151.23 513.50,150.76 514.50,150.27 C515.50,149.78 516.50,149.25 517.50,148.72 C518.50,148.20 519.50,147.65 520.50,147.11 C521.50,146.56 522.50,146.01 523.50,145.45 C524.50,144.89 525.50,144.33 526.50,143.74 C527.50,143.15 528.50,142.55 529.50,141.91 C530.50,141.27 531.50,140.61 532.50,139.90 C533.50,139.20 534.50,138.46 535.50,137.68 C536.50,136.91 537.50,136.09 538.50,135.25 C539.50,134.41 540.50,133.53 541.50,132.62 C542.50,131.72 543.50,130.79 544.50,129.84 C545.50,128.89 546.50,127.92 547.50,126.93 C548.50,125.94 549.50,124.92 550.50,123.88 C551.50,122.84 552.50,121.78 553.50,120.69 C554.50,119.61 555.50,118.50 556.50,117.39 C557.50,116.28 558.50,115.14 559.50,114.02 C560.50,112.89 561.50,111.75 562.50,110.62 C563.50,109.48 564.50,108.35 565.50,107.21 C566.50,106.07 567.50,104.93 568.50,103.79 C569.50,102.64 570.50,101.50 571.50,100.35 C572.50,99.20 573.50,98.06 574.50,96.91 C575.50,95.77 576.50,94.63 577.50,93.49 C578.50,92.36 579.50,91.23 580.50,90.10 C581.50,88.97 582.50,87.85 583.50,86.73 C584.50,85.61 585.50,84.49 586.50,83.38 C587.50,82.28 588.50,81.17 589.50,80.08 C590.50,78.99 591.50,77.91 592.50,76.85 C593.50,75.78 594.50,74.73 595.50,73.69 C596.50,72.66 597.50,71.64 598.50,70.62 C599.50,69.61 600.50,68.61 601.50,67.62 C602.50,66.62 603.50,65.64 604.50,64.65 C605.50,63.66 606.50,62.67 607.50,61.68 C608.50,60.68 609.50,59.69 610.50,58.69 C611.50,57.69 612.50,56.68 613.50,55.68 C614.50,54.68 615.50,53.67 616.50,52.68 C617.50,51.68 618.50,50.69 619.50,49.71 C620.50,48.73 621.50,47.76 622.50,46.81 C623.50,45.86 624.50,44.92 625.50,44.00 C626.50,43.08 627.50,42.18 628.50,41.28 C629.50,40.38 630.50,39.49 631.50,38.59 C632.50,37.69 633.50,36.81 634.50,35.88 C635.50,34.95 636.50,34.01 637.50,33.01 C638.50,32.01 639.50,30.96 640.50,29.88 C641.50,28.80 642.87,27.27 643.50,26.52 C644.13,25.77 644.17,25.58 644.30,25.39" fill="none" stroke="#000" stroke-width="1.60" stroke-linejoin="round"/>
<line x1="398.25" y1="184.40" x2="398.25" y2="182.60" stroke="#000" stroke-width="1.1"/><line x1="417.20" y1="184.40" x2="417.20" y2="181.20" stroke="#000" stroke-width="1.1"/><line x1="436.15" y1="184.40" x2="436.15" y2="182.60" stroke="#000" stroke-width="1.1"/><line x1="455.10" y1="184.40" x2="455.10" y2="181.20" stroke="#000" stroke-width="1.1"/><line x1="474.05" y1="184.40" x2="474.05" y2="182.60" stroke="#000" stroke-width="1.1"/><line x1="493.00" y1="184.40" x2="493.00" y2="181.20" stroke="#000" stroke-width="1.1"/><line x1="511.95" y1="184.40" x2="511.95" y2="182.60" stroke="#000" stroke-width="1.1"/><line x1="530.90" y1="184.40" x2="530.90" y2="181.20" stroke="#000" stroke-width="1.1"/><line x1="549.85" y1="184.40" x2="549.85" y2="182.60" stroke="#000" stroke-width="1.1"/><line x1="568.80" y1="184.40" x2="568.80" y2="181.20" stroke="#000" stroke-width="1.1"/><line x1="587.75" y1="184.40" x2="587.75" y2="182.60" stroke="#000" stroke-width="1.1"/><line x1="606.70" y1="184.40" x2="606.70" y2="181.20" stroke="#000" stroke-width="1.1"/><line x1="625.65" y1="184.40" x2="625.65" y2="182.60" stroke="#000" stroke-width="1.1"/><line x1="379.30" y1="41.50" x2="382.50" y2="41.50" stroke="#000" stroke-width="1.1"/><line x1="379.30" y1="79.20" x2="382.50" y2="79.20" stroke="#000" stroke-width="1.1"/><line x1="379.30" y1="116.60" x2="382.50" y2="116.60" stroke="#000" stroke-width="1.1"/><line x1="379.30" y1="154.20" x2="382.50" y2="154.20" stroke="#000" stroke-width="1.1"/><rect x="379.30" y="8.40" width="265.30" height="176.00" fill="none" stroke="#000" stroke-width="1.6"/><text x="410.60" y="198.80" font-size="13.40" font-family='"Liberation Sans", sans-serif' textLength="11.91" lengthAdjust="spacingAndGlyphs">-2</text><text x="486.40" y="198.80" font-size="13.40" font-family='"Liberation Sans", sans-serif' textLength="11.91" lengthAdjust="spacingAndGlyphs">-1</text><text x="565.27" y="198.80" font-size="13.40" font-family='"Liberation Sans", sans-serif' textLength="7.45" lengthAdjust="spacingAndGlyphs">0</text><text x="636.69" y="198.80" font-size="13.40" font-family='"Liberation Sans", sans-serif' textLength="7.45" lengthAdjust="spacingAndGlyphs">1</text>
<path d="M418.3,150.6 L421.5,153.8 L418.3,157.0 L415.1,153.8 Z" fill="#fff" stroke="#168216" stroke-width="1.3"/>
<circle cx="448.1" cy="154.5" r="2.2" fill="#fff" stroke="#e014e0" stroke-width="1.6"/>
<path d="M467.6,151.8 L471.0,156.2 L464.2,156.2 Z" fill="#fff" stroke="#d81a1a" stroke-width="1.4" stroke-linejoin="miter"/>
<rect x="495.3" y="151.7" width="4.6" height="4.6" fill="#fff" stroke="#000" stroke-width="1.3"/>
<line x1="422.7" y1="161.7" x2="492.5" y2="161.7" stroke="#000" stroke-width="1.4"/><path d="M416.9,161.7 L423.7,158.8 L423.7,164.6 Z" fill="#000"/><path d="M498.3,161.7 L491.5,158.8 L491.5,164.6 Z" fill="#000"/>
<text x="423.05" y="177.80" font-size="13.60" font-family='"Liberation Sans", sans-serif' textLength="71.35" lengthAdjust="spacingAndGlyphs">1.10 V Shift</text>
<rect x="385.8" y="13.8" width="35.2" height="20.4" fill="#000"/>
<rect x="383.6" y="11.6" width="35.2" height="20.4" fill="#fff" stroke="#000" stroke-width="0.8"/>
<text x="385.6" y="25.2" font-size="11.4" font-family='"Liberation Sans", sans-serif'>Al<tspan font-size="8" dy="2.5">2</tspan><tspan dy="-2.5">O</tspan><tspan font-size="8" dy="2.5">3</tspan></text>
<text x="426.7" y="24.5" font-size="12" font-family='"Liberation Sans", sans-serif'>V<tspan font-size="7.8" dy="3">d</tspan><tspan dy="-3"> = 100 mV</tspan></text>
<line x1="426.3" y1="44.0" x2="454.8" y2="44.0" stroke="#000" stroke-width="1.60"/><text x="458.6" y="48.3" font-size="11.8" font-family='"Liberation Sans", sans-serif'>Pt</text><line x1="426.3" y1="57.9" x2="454.8" y2="57.9" stroke="#d81a1a" stroke-width="1.60" stroke-dasharray="4.6 2.6"/><text x="458.6" y="62.2" font-size="11.8" font-family='"Liberation Sans", sans-serif'>Au</text><line x1="426.3" y1="71.8" x2="454.8" y2="71.8" stroke="#e014e0" stroke-width="1.60" stroke-dasharray="6.3 2.4 1.4 2.4"/><text x="458.6" y="76.1" font-size="11.8" font-family='"Liberation Sans", sans-serif'>Ti</text><line x1="426.3" y1="85.7" x2="454.8" y2="85.7" stroke="#168216" stroke-width="1.60" stroke-dasharray="8 3.4 2 4.4 2 4.3"/><text x="458.6" y="90.0" font-size="11.8" font-family='"Liberation Sans", sans-serif'>Al</text>
<text x="426.35" y="216.80" font-size="16.60" font-family='"Liberation Sans", sans-serif' textLength="139.22" lengthAdjust="spacingAndGlyphs">Top gate Voltage, V</text>
<text x="567.3" y="220.8" font-size="11.8" font-family='"Liberation Sans", sans-serif'>g</text>
<text x="577.74" y="216.80" font-size="16.60" font-family='"Liberation Sans", sans-serif' textLength="19.81" lengthAdjust="spacingAndGlyphs">[V]</text>
<g transform="translate(361.40,0) rotate(-90)"><text x="-154.97" y="0.00" font-size="15.20" font-family='"Liberation Sans", sans-serif' textLength="123.77" lengthAdjust="spacingAndGlyphs">Drain current [a.u]</text></g>
<text x="348.41" y="13.00" font-size="17.80" font-family='"Liberation Serif", serif' font-weight="bold" textLength="21.87" lengthAdjust="spacingAndGlyphs">(b)</text>
<text x="0.70" y="242.70" font-size="17.80" font-family='"Liberation Serif", serif' font-weight="bold" textLength="20.20" lengthAdjust="spacingAndGlyphs">(c)</text>
<text x="34.8" y="264.6" font-size="12.4" font-family='"Liberation Sans", sans-serif'>vac</text>
<text x="67.28" y="253.30" font-size="14.20" font-family='"Liberation Sans", sans-serif' textLength="63.66" lengthAdjust="spacingAndGlyphs">Graphene</text>
<text x="166.13" y="252.90" font-size="14.20" font-family='"Liberation Sans", sans-serif' textLength="41.04" lengthAdjust="spacingAndGlyphs">High-k</text>
<text x="233.38" y="252.90" font-size="14.20" font-family='"Liberation Sans", sans-serif' textLength="93.76" lengthAdjust="spacingAndGlyphs">Top gate metal</text>
<line x1="56.8" y1="260.7" x2="135.7" y2="260.7" stroke="#000" stroke-width="2.3"/>
<line x1="151.7" y1="260.7" x2="221.6" y2="260.7" stroke="#000" stroke-width="2.3"/>
<line x1="236.3" y1="260.7" x2="325.6" y2="260.7" stroke="#000" stroke-width="2.3"/>
<rect x="151.7" y="285.0" width="71.0" height="153.6" fill="#888" filter="url(#sh)" opacity="0.8"/>
<rect x="151.2" y="283.2" width="71" height="153.6" fill="url(#gk)" stroke="#7a7a7a" stroke-width="1.2"/>
<rect x="235.8" y="348.6" width="90.9" height="36.2" fill="#888" filter="url(#sh)" opacity="0.8"/>
<rect x="235.3" y="346.8" width="90.9" height="36.2" fill="url(#gblue)"/>
<path d="M235.3,383 L235.3,346.8 L326.2,346.8" fill="none" stroke="#3545d8" stroke-width="1.4"/>
<rect x="235.8" y="403.6" width="90.9" height="35.5" fill="#888" filter="url(#sh)" opacity="0.8"/>
<rect x="235.3" y="401.8" width="90.9" height="35.5" fill="url(#gred)"/>
<path d="M235.3,437.3 L235.3,401.8 L326.2,401.8" fill="none" stroke="#dd0010" stroke-width="1.4"/>
<text x="270.67" y="371.90" font-size="17.80" font-family='"Liberation Sans", sans-serif' textLength="29.69" lengthAdjust="spacingAndGlyphs">Low</text>
<text x="306.50" y="371.90" font-size="17.80" font-family='"Liberation Serif", serif' textLength="11.99" lengthAdjust="spacingAndGlyphs">Φ</text>
<text x="266.11" y="424.60" font-size="17.80" font-family='"Liberation Sans", sans-serif' textLength="34.89" lengthAdjust="spacingAndGlyphs">High</text>
<text x="305.50" y="424.60" font-size="17.80" font-family='"Liberation Serif", serif' textLength="11.99" lengthAdjust="spacingAndGlyphs">Φ</text>
<line x1="247.4" y1="262.0" x2="247.4" y2="345.0" stroke="#3c3ce0" stroke-width="2.2"/><path d="M243.1,271.0 L247.4,262.8 L251.7,271.0" fill="none" stroke="#3c3ce0" stroke-width="2.2" stroke-linejoin="miter"/><path d="M243.1,336.0 L247.4,344.2 L251.7,336.0" fill="none" stroke="#3c3ce0" stroke-width="2.2" stroke-linejoin="miter"/>
<line x1="258.4" y1="262.0" x2="258.4" y2="400.8" stroke="#b80c18" stroke-width="2.2"/><path d="M254.1,271.0 L258.4,262.8 L262.7,271.0" fill="none" stroke="#b80c18" stroke-width="2.2" stroke-linejoin="miter"/><path d="M254.1,391.8 L258.4,400.0 L262.7,391.8" fill="none" stroke="#b80c18" stroke-width="2.2" stroke-linejoin="miter"/>
<text x="263.05" y="307.30" font-size="19.50" font-family='"Liberation Sans", sans-serif' textLength="9.88" lengthAdjust="spacingAndGlyphs">q</text>
<text x="273.90" y="307.60" font-size="20.50" font-family='"Liberation Serif", serif' textLength="11.99" lengthAdjust="spacingAndGlyphs">Φ</text>
<text x="287.52" y="311.30" font-size="12.60" font-family='"Liberation Sans", sans-serif' textLength="29.28" lengthAdjust="spacingAndGlyphs">Metal</text>
<path d="M61.9,433.3 Q98.2,443.3 134.6,433.3" fill="none" stroke="#999" stroke-width="2.5" filter="url(#sh)" opacity="0.7"/><path d="M97.4,367.4 L136.6,430.8 Q98.2,440.8 59.9,430.8 Z" fill="url(#gconer)" stroke="#c03838" stroke-width="1.1" stroke-linejoin="round"/>
<path d="M60.5,303.2 L97.3,365.2 L136.1,303.2 A37.8,6.5 0 0 1 60.5,303.2 Z" fill="url(#gconeb)" stroke="#1a6cc2" stroke-width="1.6" stroke-linejoin="round"/><ellipse cx="98.3" cy="303.2" rx="37.8" ry="6.5" fill="url(#gtopb)" stroke="#1a6cc2" stroke-width="2.3"/>
<line x1="56.6" y1="367.3" x2="134.8" y2="367.3" stroke="#3c3a28" stroke-width="2.1" stroke-dasharray="2.2 2.18"/>
<text x="38.62" y="369.70" font-size="13.60" font-family='"Liberation Sans", sans-serif' textLength="8.00" lengthAdjust="spacingAndGlyphs">E</text>
<text x="46.51" y="372.20" font-size="8.80" font-family='"Liberation Sans", sans-serif' textLength="5.87" lengthAdjust="spacingAndGlyphs">F</text>
<text x="348.91" y="242.90" font-size="17.80" font-family='"Liberation Serif", serif' font-weight="bold" textLength="21.87" lengthAdjust="spacingAndGlyphs">(d)</text>
<text x="377.59" y="243.90" font-size="17.60" font-family='"Liberation Sans", sans-serif' textLength="33.76" lengthAdjust="spacingAndGlyphs">Low</text>
<text x="416.55" y="243.90" font-size="17.60" font-family='"Liberation Serif", serif' textLength="13.19" lengthAdjust="spacingAndGlyphs">Φ</text>
<text x="435.13" y="243.90" font-size="17.60" font-family='"Liberation Sans", sans-serif' textLength="43.77" lengthAdjust="spacingAndGlyphs">Metal</text>
<path d="M482,279 L551.2,296.8 L551.2,425.4 L482,425.4 Z" fill="#888" filter="url(#sh)" opacity="0.8"/>
<rect x="551.2" y="348.5" width="89.5" height="76.9" fill="#888" filter="url(#sh)" opacity="0.8"/>
<path d="M481.5,277.2 L550.7,295 L550.7,423.6 L481.5,423.6 Z" fill="url(#gk)"/>
<rect x="550.7" y="346.7" width="89.5" height="76.9" fill="url(#gblue)"/>
<line x1="550.7" y1="346.7" x2="640.2" y2="346.7" stroke="#3040d8" stroke-width="1.5"/>
<line x1="481.5" y1="277.2" x2="550.7" y2="295" stroke="#7f7f7f" stroke-width="2.5" stroke-dasharray="5 2.4"/>
<line x1="550.7" y1="294" x2="550.7" y2="423.6" stroke="#767676" stroke-width="2"/>
<line x1="482" y1="278" x2="482" y2="423.6" stroke="#8c8c8c" stroke-width="1"/>
<text x="570.66" y="391.80" font-size="17.80" font-family='"Liberation Sans", sans-serif' textLength="30.00" lengthAdjust="spacingAndGlyphs">Low</text>
<text x="606.50" y="391.80" font-size="17.80" font-family='"Liberation Serif", serif' textLength="11.99" lengthAdjust="spacingAndGlyphs">Φ</text>
<path d="M391.0,433.3 Q427.4,443.7 463.8,433.3" fill="none" stroke="#999" stroke-width="2.5" filter="url(#sh)" opacity="0.7"/><path d="M426.7,367.0 L465.8,430.8 Q427.4,441.2 389.0,430.8 Z" fill="url(#gconer)" stroke="#c03838" stroke-width="1.1" stroke-linejoin="round"/>
<path d="M389.6,303.7 L426.7,365.6 L465.0,303.7 A37.7,6.6 0 0 1 389.6,303.7 Z" fill="url(#gconeb)" stroke="#1a6cc2" stroke-width="1.6" stroke-linejoin="round"/><ellipse cx="427.3" cy="303.7" rx="37.7" ry="6.6" fill="url(#gtopb)" stroke="#1a6cc2" stroke-width="2.3"/>
<line x1="373.2" y1="347" x2="480" y2="347" stroke="#3428d4" stroke-width="1.9" stroke-dasharray="6 2.8"/>
<line x1="372.6" y1="367.1" x2="480.0" y2="367.1" stroke="#3c3a28" stroke-width="2.1" stroke-dasharray="2.2 2.18"/>
<line x1="406.3" y1="365.0" x2="406.3" y2="347.9" stroke="#3a2ad8" stroke-width="1.9"/><path d="M402.0,356.9 L406.3,348.7 L410.6,356.9" fill="none" stroke="#3a2ad8" stroke-width="1.9" stroke-linejoin="miter"/>
<text x="1.60" y="473.10" font-size="17.80" font-family='"Liberation Serif", serif' font-weight="bold" textLength="20.20" lengthAdjust="spacingAndGlyphs">(e)</text>
<text x="25.69" y="473.70" font-size="17.60" font-family='"Liberation Sans", sans-serif' textLength="37.80" lengthAdjust="spacingAndGlyphs">High</text>
<text x="68.71" y="473.70" font-size="17.60" font-family='"Liberation Serif", serif' textLength="11.88" lengthAdjust="spacingAndGlyphs">Φ</text>
<text x="86.19" y="473.70" font-size="17.60" font-family='"Liberation Sans", sans-serif' textLength="41.96" lengthAdjust="spacingAndGlyphs">Metal</text>
<path d="M153.2,536.6 L222.6,513.5 L222.6,640.9 L153.2,640.9 Z" fill="#888" filter="url(#sh)" opacity="0.8"/>
<rect x="222.6" y="607.0" width="88.2" height="33.9" fill="#888" filter="url(#sh)" opacity="0.8"/>
<path d="M152.7,534.8 L222.1,511.7 L222.1,639.1 L152.7,639.1 Z" fill="url(#gk)"/>
<rect x="222.1" y="605.2" width="88.2" height="33.9" fill="url(#gred)"/>
<line x1="222.1" y1="605.2" x2="310.3" y2="605.2" stroke="#dd0010" stroke-width="1.5"/>
<line x1="152.7" y1="534.8" x2="222.1" y2="511.7" stroke="#7f7f7f" stroke-width="2.5" stroke-dasharray="5 2.4"/>
<line x1="221.6" y1="511" x2="221.6" y2="639.1" stroke="#767676" stroke-width="2"/>
<line x1="153.2" y1="535" x2="153.2" y2="639.1" stroke="#8c8c8c" stroke-width="1"/>
<text x="239.71" y="628.60" font-size="17.80" font-family='"Liberation Sans", sans-serif' textLength="34.79" lengthAdjust="spacingAndGlyphs">High</text>
<text x="279.00" y="628.60" font-size="17.80" font-family='"Liberation Serif", serif' textLength="11.99" lengthAdjust="spacingAndGlyphs">Φ</text>
<path d="M62.1,648.1 Q98.4,658.5 134.7,648.1" fill="none" stroke="#999" stroke-width="2.5" filter="url(#sh)" opacity="0.7"/><path d="M98.0,584.0 L136.7,645.6 Q98.4,656.0 60.1,645.6 Z" fill="url(#gconer)" stroke="#c03838" stroke-width="1.1" stroke-linejoin="round"/>
<path d="M60.3,518.5 L98.0,582.5 L135.9,518.5 A37.8,6.8 0 0 1 60.3,518.5 Z" fill="url(#gconeb)" stroke="#1a6cc2" stroke-width="1.6" stroke-linejoin="round"/><ellipse cx="98.1" cy="518.5" rx="37.8" ry="6.8" fill="url(#gtopb)" stroke="#1a6cc2" stroke-width="2.3"/>
<line x1="44.5" y1="583.9" x2="152.9" y2="583.9" stroke="#3c3a28" stroke-width="2.1" stroke-dasharray="2.2 2.18"/>
<line x1="43.9" y1="606.5" x2="146.4" y2="606.5" stroke="#c00a14" stroke-width="2.4" stroke-dasharray="9.1 6.5"/>
<line x1="73.8" y1="587.7" x2="73.8" y2="603.4" stroke="#b40a14" stroke-width="2.2"/><path d="M69.5,594.4 L73.8,602.6 L78.1,594.4" fill="none" stroke="#b40a14" stroke-width="2.2" stroke-linejoin="miter"/>
<text x="348.40" y="472.80" font-size="17.80" font-family='"Liberation Serif", serif' font-weight="bold" textLength="18.20" lengthAdjust="spacingAndGlyphs">(f)</text>
<line x1="511.8" y1="468" x2="511.8" y2="644" stroke="#808080" stroke-width="1.3" stroke-dasharray="4.5 2.8"/>
<path d="M378.90,507.90 C379.40,508.05 380.90,508.51 381.90,508.82 C382.90,509.13 383.90,509.44 384.90,509.75 C385.90,510.07 386.90,510.39 387.90,510.72 C388.90,511.05 389.90,511.39 390.90,511.73 C391.90,512.08 392.90,512.44 393.90,512.80 C394.90,513.16 395.90,513.53 396.90,513.89 C397.90,514.26 398.90,514.63 399.90,515.01 C400.90,515.38 401.90,515.76 402.90,516.14 C403.90,516.53 404.90,516.91 405.90,517.31 C406.90,517.71 407.90,518.11 408.90,518.52 C409.90,518.93 410.90,519.35 411.90,519.78 C412.90,520.21 413.90,520.65 414.90,521.11 C415.90,521.56 416.90,522.03 417.90,522.51 C418.90,522.99 419.90,523.47 420.90,523.97 C421.90,524.47 422.90,524.97 423.90,525.49 C424.90,526.01 425.90,526.53 426.90,527.07 C427.90,527.60 428.90,528.15 429.90,528.71 C430.90,529.27 431.90,529.84 432.90,530.42 C433.90,531.00 434.90,531.60 435.90,532.21 C436.90,532.82 437.90,533.44 438.90,534.08 C439.90,534.72 440.90,535.38 441.90,536.05 C442.90,536.73 443.90,537.42 444.90,538.12 C445.90,538.82 446.90,539.54 447.90,540.27 C448.90,541.00 449.90,541.74 450.90,542.49 C451.90,543.24 452.90,544.00 453.90,544.77 C454.90,545.53 455.90,546.31 456.90,547.09 C457.90,547.87 458.90,548.66 459.90,549.45 C460.90,550.24 461.90,551.03 462.90,551.83 C463.90,552.63 464.90,553.42 465.90,554.25 C466.90,555.08 467.90,555.90 468.90,556.79 C469.90,557.68 470.90,558.59 471.90,559.60 C472.90,560.60 473.90,561.67 474.90,562.82 C475.90,563.97 476.90,565.20 477.90,566.49 C478.90,567.79 479.90,569.16 480.90,570.56 C481.90,571.97 482.90,573.43 483.90,574.91 C484.90,576.38 485.90,577.89 486.90,579.42 C487.90,580.94 488.90,582.49 489.90,584.06 C490.90,585.63 491.90,587.22 492.90,588.83 C493.90,590.43 494.90,592.06 495.90,593.69 C496.90,595.33 497.90,597.00 498.90,598.64 C499.90,600.29 500.90,602.00 501.90,603.56 C502.90,605.12 503.90,606.68 504.90,607.99 C505.90,609.30 507.27,610.62 507.90,611.43 C508.53,612.24 508.40,612.45 508.66,612.87 C508.93,613.28 509.19,613.63 509.47,613.91 C509.75,614.20 510.03,614.41 510.33,614.57 C510.62,614.72 510.92,614.81 511.23,614.83 C511.54,614.85 511.85,614.81 512.17,614.70 C512.50,614.59 512.83,614.42 513.17,614.18 C513.51,613.94 513.85,613.64 514.21,613.27 C514.56,612.90 514.92,612.47 515.29,611.97 C515.66,611.47 516.04,610.90 516.42,610.27 C516.81,609.64 516.90,609.36 517.60,608.19 C518.30,607.01 519.60,604.95 520.60,603.22 C521.60,601.49 522.60,599.57 523.60,597.80 C524.60,596.04 525.60,594.29 526.60,592.60 C527.60,590.92 528.60,589.29 529.60,587.69 C530.60,586.09 531.60,584.53 532.60,583.02 C533.60,581.52 534.60,580.05 535.60,578.64 C536.60,577.23 537.60,575.86 538.60,574.56 C539.60,573.26 540.60,572.03 541.60,570.85 C542.60,569.66 543.60,568.56 544.60,567.48 C545.60,566.40 546.60,565.38 547.60,564.37 C548.60,563.36 549.60,562.38 550.60,561.41 C551.60,560.44 552.60,559.48 553.60,558.54 C554.60,557.59 555.60,556.66 556.60,555.74 C557.60,554.82 558.60,553.91 559.60,553.01 C560.60,552.12 561.60,551.23 562.60,550.37 C563.60,549.50 564.60,548.64 565.60,547.81 C566.60,546.97 567.60,546.15 568.60,545.36 C569.60,544.56 570.60,543.78 571.60,543.02 C572.60,542.26 573.60,541.52 574.60,540.80 C575.60,540.08 576.60,539.37 577.60,538.69 C578.60,538.00 579.60,537.33 580.60,536.67 C581.60,536.02 582.60,535.38 583.60,534.75 C584.60,534.12 585.60,533.51 586.60,532.90 C587.60,532.30 588.60,531.71 589.60,531.14 C590.60,530.56 591.60,529.99 592.60,529.44 C593.60,528.89 594.60,528.35 595.60,527.82 C596.60,527.29 597.60,526.78 598.60,526.28 C599.60,525.78 600.60,525.30 601.60,524.83 C602.60,524.36 603.60,523.90 604.60,523.45 C605.60,523.01 606.60,522.57 607.60,522.14 C608.60,521.72 609.60,521.30 610.60,520.89 C611.60,520.48 612.60,520.08 613.60,519.68 C614.60,519.28 615.60,518.89 616.60,518.50 C617.60,518.12 618.60,517.74 619.60,517.37 C620.60,517.00 621.60,516.64 622.60,516.29 C623.60,515.93 624.60,515.58 625.60,515.24 C626.60,514.90 627.60,514.56 628.60,514.22 C629.60,513.88 630.60,513.55 631.60,513.22 C632.60,512.89 633.60,512.56 634.60,512.23 C635.60,511.91 636.60,511.58 637.60,511.26 C638.60,510.94 639.60,510.61 640.60,510.30 C641.60,509.99 643.00,509.60 643.60,509.40 C644.20,509.20 644.10,509.16 644.20,509.12" fill="none" stroke="#1a1a1a" stroke-width="1.40" stroke-linejoin="round"/>
<path d="M378.90,494.60 C379.40,494.73 380.90,495.12 381.90,495.38 C382.90,495.64 383.90,495.90 384.90,496.17 C385.90,496.44 386.90,496.71 387.90,496.99 C388.90,497.27 389.90,497.56 390.90,497.86 C391.90,498.16 392.90,498.47 393.90,498.79 C394.90,499.10 395.90,499.43 396.90,499.75 C397.90,500.08 398.90,500.42 399.90,500.75 C400.90,501.09 401.90,501.43 402.90,501.77 C403.90,502.12 404.90,502.46 405.90,502.81 C406.90,503.16 407.90,503.51 408.90,503.87 C409.90,504.23 410.90,504.58 411.90,504.95 C412.90,505.31 413.90,505.67 414.90,506.04 C415.90,506.41 416.90,506.78 417.90,507.16 C418.90,507.53 419.90,507.91 420.90,508.29 C421.90,508.67 422.90,509.05 423.90,509.44 C424.90,509.82 425.90,510.21 426.90,510.60 C427.90,510.99 428.90,511.39 429.90,511.79 C430.90,512.20 431.90,512.60 432.90,513.02 C433.90,513.43 434.90,513.85 435.90,514.28 C436.90,514.71 437.90,515.15 438.90,515.59 C439.90,516.03 440.90,516.48 441.90,516.94 C442.90,517.40 443.90,517.86 444.90,518.33 C445.90,518.80 446.90,519.28 447.90,519.76 C448.90,520.25 449.90,520.74 450.90,521.23 C451.90,521.73 452.90,522.23 453.90,522.74 C454.90,523.25 455.90,523.76 456.90,524.29 C457.90,524.81 458.90,525.34 459.90,525.87 C460.90,526.41 461.90,526.95 462.90,527.50 C463.90,528.05 464.90,528.61 465.90,529.17 C466.90,529.74 467.90,530.32 468.90,530.90 C469.90,531.48 470.90,532.07 471.90,532.67 C472.90,533.26 473.90,533.87 474.90,534.47 C475.90,535.08 476.90,535.69 477.90,536.30 C478.90,536.91 479.90,537.53 480.90,538.15 C481.90,538.76 482.90,539.38 483.90,540.00 C484.90,540.62 485.90,541.24 486.90,541.86 C487.90,542.47 488.90,543.09 489.90,543.71 C490.90,544.33 491.90,544.95 492.90,545.58 C493.90,546.22 494.90,546.85 495.90,547.53 C496.90,548.20 497.90,548.88 498.90,549.60 C499.90,550.33 500.90,551.08 501.90,551.87 C502.90,552.66 503.90,553.49 504.90,554.35 C505.90,555.20 506.90,556.10 507.90,557.00 C508.90,557.91 509.90,558.84 510.90,559.77 C511.90,560.71 512.90,561.65 513.90,562.61 C514.90,563.58 515.90,564.54 516.90,565.54 C517.90,566.53 518.90,567.53 519.90,568.57 C520.90,569.60 521.90,570.66 522.90,571.74 C523.90,572.83 524.90,573.94 525.90,575.07 C526.90,576.21 527.90,577.37 528.90,578.56 C529.90,579.75 530.90,580.97 531.90,582.22 C532.90,583.46 533.90,584.74 534.90,586.04 C535.90,587.35 536.90,588.69 537.90,590.05 C538.90,591.42 539.90,592.81 540.90,594.23 C541.90,595.65 542.90,597.09 543.90,598.57 C544.90,600.04 545.90,601.58 546.90,603.07 C547.90,604.57 549.19,606.38 549.90,607.54 C550.61,608.70 550.73,609.28 551.14,610.02 C551.55,610.76 551.96,611.41 552.37,611.97 C552.78,612.54 553.19,613.01 553.60,613.40 C554.01,613.79 554.42,614.10 554.83,614.31 C555.24,614.53 555.64,614.66 556.05,614.70 C556.46,614.74 556.86,614.70 557.27,614.56 C557.67,614.43 558.08,614.21 558.48,613.90 C558.89,613.60 559.29,613.20 559.69,612.72 C560.09,612.24 560.50,611.67 560.90,611.02 C561.30,610.36 561.40,609.83 562.10,608.79 C562.80,607.75 564.10,606.26 565.10,604.76 C566.10,603.27 567.10,601.53 568.10,599.80 C569.10,598.07 570.10,596.17 571.10,594.38 C572.10,592.59 573.10,590.76 574.10,589.06 C575.10,587.35 576.10,585.70 577.10,584.12 C578.10,582.54 579.10,581.05 580.10,579.58 C581.10,578.12 582.10,576.71 583.10,575.35 C584.10,573.98 585.10,572.66 586.10,571.39 C587.10,570.12 588.10,568.91 589.10,567.74 C590.10,566.58 591.10,565.47 592.10,564.41 C593.10,563.35 594.10,562.34 595.10,561.37 C596.10,560.40 597.10,559.47 598.10,558.57 C599.10,557.67 600.10,556.81 601.10,555.96 C602.10,555.12 603.10,554.30 604.10,553.50 C605.10,552.70 606.10,551.92 607.10,551.16 C608.10,550.39 609.10,549.64 610.10,548.91 C611.10,548.17 612.10,547.44 613.10,546.73 C614.10,546.02 615.10,545.32 616.10,544.63 C617.10,543.95 618.10,543.28 619.10,542.62 C620.10,541.96 621.10,541.32 622.10,540.69 C623.10,540.07 624.10,539.45 625.10,538.84 C626.10,538.24 627.10,537.64 628.10,537.05 C629.10,536.46 630.10,535.87 631.10,535.29 C632.10,534.71 633.10,534.14 634.10,533.56 C635.10,532.99 636.10,532.42 637.10,531.86 C638.10,531.29 639.10,530.72 640.10,530.17 C641.10,529.63 642.42,528.97 643.10,528.57 C643.78,528.18 644.02,527.95 644.20,527.83" fill="none" stroke="#2424d0" stroke-width="1.40" stroke-linejoin="round"/>
<path d="M378.90,527.80 C379.40,528.11 380.90,529.05 381.90,529.68 C382.90,530.31 383.90,530.94 384.90,531.57 C385.90,532.21 386.90,532.84 387.90,533.49 C388.90,534.14 389.90,534.79 390.90,535.45 C391.90,536.11 392.90,536.78 393.90,537.44 C394.90,538.11 395.90,538.78 396.90,539.45 C397.90,540.12 398.90,540.79 399.90,541.47 C400.90,542.14 401.90,542.82 402.90,543.50 C403.90,544.18 404.90,544.87 405.90,545.57 C406.90,546.26 407.90,546.97 408.90,547.68 C409.90,548.40 410.90,549.13 411.90,549.87 C412.90,550.61 413.90,551.37 414.90,552.15 C415.90,552.92 416.90,553.71 417.90,554.51 C418.90,555.32 419.90,556.14 420.90,556.97 C421.90,557.80 422.90,558.64 423.90,559.49 C424.90,560.35 425.90,561.21 426.90,562.08 C427.90,562.96 428.90,563.84 429.90,564.75 C430.90,565.65 431.90,566.56 432.90,567.49 C433.90,568.43 434.90,569.37 435.90,570.36 C436.90,571.34 437.90,572.33 438.90,573.40 C439.90,574.46 440.90,575.55 441.90,576.73 C442.90,577.92 443.90,579.17 444.90,580.51 C445.90,581.85 446.90,583.29 447.90,584.79 C448.90,586.28 449.90,587.86 450.90,589.48 C451.90,591.10 452.90,592.80 453.90,594.51 C454.90,596.22 455.90,598.03 456.90,599.75 C457.90,601.46 458.90,603.23 459.90,604.79 C460.90,606.35 462.24,608.06 462.90,609.13 C463.56,610.20 463.54,610.59 463.87,611.21 C464.20,611.82 464.53,612.36 464.87,612.81 C465.20,613.26 465.54,613.63 465.89,613.92 C466.23,614.21 466.58,614.42 466.93,614.55 C467.28,614.68 467.64,614.73 468.00,614.70 C468.36,614.67 468.72,614.56 469.09,614.36 C469.46,614.17 469.83,613.90 470.21,613.54 C470.58,613.19 470.96,612.75 471.35,612.24 C471.73,611.72 472.12,611.12 472.51,610.45 C472.90,609.77 473.00,609.36 473.70,608.17 C474.40,606.98 475.70,605.07 476.70,603.31 C477.70,601.54 478.70,599.53 479.70,597.59 C480.70,595.65 481.70,593.58 482.70,591.67 C483.70,589.75 484.70,587.85 485.70,586.10 C486.70,584.34 487.70,582.70 488.70,581.15 C489.70,579.60 490.70,578.18 491.70,576.81 C492.70,575.44 493.70,574.16 494.70,572.93 C495.70,571.69 496.70,570.52 497.70,569.39 C498.70,568.26 499.70,567.18 500.70,566.15 C501.70,565.13 502.70,564.15 503.70,563.22 C504.70,562.28 505.70,561.40 506.70,560.55 C507.70,559.70 508.70,558.88 509.70,558.09 C510.70,557.30 511.70,556.54 512.70,555.81 C513.70,555.08 514.70,554.38 515.70,553.70 C516.70,553.03 517.70,552.38 518.70,551.74 C519.70,551.10 520.70,550.48 521.70,549.85 C522.70,549.23 523.70,548.61 524.70,547.99 C525.70,547.37 526.70,546.75 527.70,546.13 C528.70,545.51 529.70,544.89 530.70,544.27 C531.70,543.66 532.70,543.05 533.70,542.44 C534.70,541.83 535.70,541.22 536.70,540.62 C537.70,540.02 538.70,539.42 539.70,538.83 C540.70,538.25 541.70,537.66 542.70,537.09 C543.70,536.51 544.70,535.94 545.70,535.39 C546.70,534.83 547.70,534.28 548.70,533.73 C549.70,533.19 550.70,532.65 551.70,532.12 C552.70,531.59 553.70,531.07 554.70,530.56 C555.70,530.04 556.70,529.53 557.70,529.03 C558.70,528.52 559.70,528.03 560.70,527.54 C561.70,527.05 562.70,526.56 563.70,526.09 C564.70,525.61 565.70,525.14 566.70,524.68 C567.70,524.21 568.70,523.76 569.70,523.31 C570.70,522.86 571.70,522.42 572.70,521.99 C573.70,521.55 574.70,521.13 575.70,520.71 C576.70,520.29 577.70,519.89 578.70,519.48 C579.70,519.08 580.70,518.68 581.70,518.29 C582.70,517.90 583.70,517.51 584.70,517.13 C585.70,516.74 586.70,516.36 587.70,515.98 C588.70,515.60 589.70,515.23 590.70,514.85 C591.70,514.47 592.70,514.10 593.70,513.72 C594.70,513.35 595.70,512.97 596.70,512.60 C597.70,512.22 598.70,511.85 599.70,511.48 C600.70,511.11 601.70,510.74 602.70,510.37 C603.70,510.01 604.70,509.64 605.70,509.29 C606.70,508.93 607.70,508.58 608.70,508.24 C609.70,507.90 610.70,507.56 611.70,507.23 C612.70,506.91 613.70,506.58 614.70,506.27 C615.70,505.96 616.70,505.66 617.70,505.37 C618.70,505.07 619.70,504.79 620.70,504.51 C621.70,504.23 622.70,503.97 623.70,503.70 C624.70,503.43 625.70,503.17 626.70,502.92 C627.70,502.66 628.70,502.41 629.70,502.16 C630.70,501.91 631.70,501.66 632.70,501.41 C633.70,501.16 634.70,500.92 635.70,500.68 C636.70,500.43 637.70,500.19 638.70,499.95 C639.70,499.71 640.78,499.47 641.70,499.25 C642.62,499.03 643.78,498.72 644.20,498.61" fill="none" stroke="#e02828" stroke-width="1.40" stroke-linejoin="round"/>
<line x1="378.7" y1="511.6" x2="381.8" y2="511.6" stroke="#000" stroke-width="1.1"/>
<line x1="378.7" y1="555.5" x2="381.8" y2="555.5" stroke="#000" stroke-width="1.1"/>
<line x1="378.7" y1="599.5" x2="381.8" y2="599.5" stroke="#000" stroke-width="1.1"/>
<line x1="511.8" y1="644" x2="511.8" y2="640.8" stroke="#000" stroke-width="1.1"/>
<rect x="378.7" y="467.7" width="265.5" height="176.4" fill="none" stroke="#000" stroke-width="1.4"/>
<line x1="508.5" y1="618.9" x2="480" y2="618.9" stroke="#c0504d" stroke-width="3"/>
<path d="M474.3,618.9 L482,614.8 L482,623 Z" fill="#c0504d"/>
<line x1="515.2" y1="618.9" x2="544" y2="618.9" stroke="#1f4e8a" stroke-width="3"/>
<path d="M549.6,618.9 L542,614.8 L542,623 Z" fill="#1f4e8a"/>
<text x="418.5" y="635.6" font-size="14.5" font-family='"Liberation Sans", sans-serif'>Low</text>
<text x="453.5" y="635.6" font-size="14.5" font-family='"Liberation Serif", serif'>Φ</text>
<text x="469.2" y="635.6" font-size="14.5" font-family='"Liberation Sans", sans-serif'>metal</text>
<text x="518.8" y="635.6" font-size="14.5" font-family='"Liberation Sans", sans-serif'>High</text>
<text x="556.1" y="635.6" font-size="14.5" font-family='"Liberation Serif", serif'>Φ</text>
<text x="572.8" y="635.6" font-size="14.5" font-family='"Liberation Sans", sans-serif'>metal</text>
<text x="507.06" y="657.60" font-size="13.20" font-family='"Liberation Sans", sans-serif' textLength="7.68" lengthAdjust="spacingAndGlyphs">0</text>
<text x="451.50" y="676.40" font-size="15.60" font-family='"Liberation Sans", sans-serif' textLength="112.47" lengthAdjust="spacingAndGlyphs">Gate Voltage, V</text>
<text x="564.6" y="680.2" font-size="10.8" font-family='"Liberation Sans", sans-serif'>g</text>
<g transform="translate(361.90,0) rotate(-90)"><text x="-607.00" y="0.00" font-size="16.10" font-family='"Liberation Sans", sans-serif' textLength="104.56" lengthAdjust="spacingAndGlyphs">Drain current, I</text></g>
<text x="365.9" y="502.1" font-size="10.5" font-family='"Liberation Sans", sans-serif' transform="rotate(-90 365.9 502.1)">d</text>
</svg>
</body></html>
